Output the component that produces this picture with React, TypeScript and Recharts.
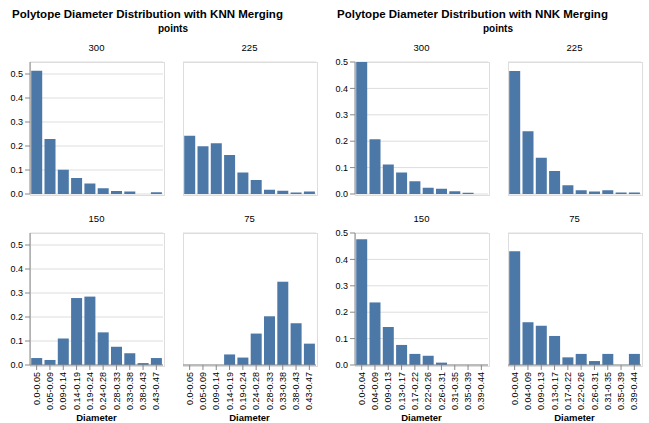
import React from "react";
import { BarChart, Bar, XAxis, YAxis, CartesianGrid } from "recharts";

const KNN_BINS = ["0.0-0.05", "0.05-0.09", "0.09-0.14", "0.14-0.19", "0.19-0.24", "0.24-0.28", "0.28-0.33", "0.33-0.38", "0.38-0.43", "0.43-0.47"];
const NNK_BINS = ["0.0-0.04", "0.04-0.09", "0.09-0.13", "0.13-0.17", "0.17-0.22", "0.22-0.26", "0.26-0.31", "0.31-0.35", "0.35-0.39", "0.39-0.44"];

const KNN_300 = [0.514, 0.229, 0.101, 0.067, 0.044, 0.024, 0.013, 0.01, 0, 0.007];
const KNN_225 = [0.243, 0.199, 0.211, 0.163, 0.09, 0.058, 0.018, 0.014, 0.006, 0.01];
const KNN_150 = [0.029, 0.021, 0.11, 0.279, 0.285, 0.136, 0.076, 0.049, 0.008, 0.029];
const KNN_75 = [0, 0, 0, 0.044, 0.031, 0.131, 0.203, 0.347, 0.174, 0.089];

const NNK_300 = [0.5, 0.207, 0.112, 0.081, 0.048, 0.024, 0.02, 0.01, 0.005, 0];
const NNK_225 = [0.466, 0.238, 0.137, 0.087, 0.033, 0.014, 0.009, 0.014, 0.006, 0.006];
const NNK_150 = [0.476, 0.237, 0.144, 0.076, 0.042, 0.035, 0.009, 0, 0, 0];
const NNK_75 = [0.431, 0.162, 0.149, 0.11, 0.029, 0.042, 0.015, 0.042, 0, 0.042];

const FACET_LABELS = ["300", "225", "150", "75"];
const Y_TICKS = [0, 0.1, 0.2, 0.3, 0.4, 0.5];
const KNN_DOMAIN = [0, 0.55];
const NNK_DOMAIN = [0, 0.5];

const FONT = 'Arial, "Liberation Sans", Helvetica, sans-serif';
const PLOT_W = 133;
const PLOT_H = 132;
const YW = 30;
const XH = 60;

function build(bins: string[], vals: number[]) {
  return bins.map((b, i) => ({ bin: b, value: vals[i] }));
}

const XTick = (props: any) => {
  const { x, y, payload } = props;
  return (
    <text
      x={x}
      y={y}
      transform={`rotate(-90, ${x}, ${y})`}
      textAnchor="end"
      dy="0.35em"
      fontSize={9}
      fontFamily={FONT}
      fill="#000"
    >
      {payload.value}
    </text>
  );
};

type FacetProps = {
  bins: string[];
  vals: number[];
  px: number;
  py: number;
  showY: boolean;
  showX: boolean;
  domain: number[];
  label: string;
};

function Facet({ bins, vals, px, py, showY, showX, domain, label }: FacetProps) {
  const data = build(bins, vals);
  const top = 5;
  const h = top + PLOT_H + (showX ? XH : 5);
  return (
    <>
      <div
        style={{
          position: "absolute",
          left: px,
          top: py - 19,
          width: PLOT_W,
          textAlign: "center",
          fontSize: 9.5,
          lineHeight: "10px",
          fontFamily: FONT,
          color: "#000",
        }}
      >
        {label}
      </div>
      <div
        style={{
          position: "absolute",
          left: px - 0.5,
          top: py - 0.5,
          width: PLOT_W,
          height: PLOT_H,
          border: "1px solid #ddd",
        }}
      />
      <div style={{ position: "absolute", left: px - YW, top: py - top }}>
        <BarChart
          width={YW + PLOT_W + 5}
          height={h}
          data={data}
          margin={{ top, right: 5, left: 0, bottom: showX ? 0 : 5 }}
          barCategoryGap={1.2}
        >
          <CartesianGrid vertical={false} stroke="#ddd" />
          <XAxis
            dataKey="bin"
            hide={!showX}
            height={XH}
            interval={0}
            axisLine={{ stroke: "#888" }}
            tickLine={{ stroke: "#888" }}
            tickSize={5}
            tick={<XTick />}
          />
          <YAxis
            width={YW}
            domain={domain}
            ticks={Y_TICKS}
            allowDataOverflow
            interval={0}
            axisLine={showY ? { stroke: "#888" } : false}
            tickLine={showY ? { stroke: "#888" } : false}
            tickSize={5}
            tickMargin={2}
            tick={showY ? { fontSize: 9, fontFamily: FONT, fill: "#000" } : false}
            tickFormatter={(v: number) => v.toFixed(1)}
          />
          <Bar dataKey="value" fill="#4c78a8" isAnimationActive={false} />
        </BarChart>
      </div>
      {showX && (
        <div
          style={{
            position: "absolute",
            left: px,
            top: py + PLOT_H + 48,
            width: PLOT_W,
            textAlign: "center",
            fontSize: 9.5,
            lineHeight: "10px",
            fontWeight: "bold",
            fontFamily: FONT,
            color: "#000",
          }}
        >
          Diameter
        </div>
      )}
    </>
  );
}

function Panel({
  title,
  bins,
  sets,
  x0,
  domain,
}: {
  title: string;
  bins: string[];
  sets: number[][];
  x0: number;
  domain: number[];
}) {
  const cols = [x0, x0 + 153];
  const rows = [62, 233];
  return (
    <>
      <div
        style={{
          position: "absolute",
          left: x0 - 18,
          top: 8,
          fontSize: 11.5,
          lineHeight: "12px",
          fontWeight: "bold",
          fontFamily: FONT,
          color: "#000",
          whiteSpace: "nowrap",
        }}
      >
        {title}
      </div>
      <div
        style={{
          position: "absolute",
          left: x0,
          top: 24,
          width: 153 + PLOT_W,
          textAlign: "center",
          fontSize: 10,
          lineHeight: "10px",
          fontWeight: "bold",
          fontFamily: FONT,
          color: "#000",
        }}
      >
        points
      </div>
      {sets.map((vals, i) => (
        <Facet
          key={i}
          bins={bins}
          vals={vals}
          px={cols[i % 2]}
          py={rows[Math.floor(i / 2)]}
          showY={i % 2 === 0}
          showX={i >= 2}
          domain={domain}
          label={FACET_LABELS[i]}
        />
      ))}
    </>
  );
}

export default function App() {
  return (
    <div
      style={{
        position: "absolute",
        left: 0,
        top: 0,
        width: 649,
        height: 423,
        background: "#fff",
        overflow: "hidden",
      }}
    >
      <Panel
        title="Polytope Diameter Distribution with KNN Merging"
        bins={KNN_BINS}
        sets={[KNN_300, KNN_225, KNN_150, KNN_75]}
        x0={30}
        domain={KNN_DOMAIN}
      />
      <Panel
        title="Polytope Diameter Distribution with NNK Merging"
        bins={NNK_BINS}
        sets={[NNK_300, NNK_225, NNK_150, NNK_75]}
        x0={355}
        domain={NNK_DOMAIN}
      />
    </div>
  );
}
